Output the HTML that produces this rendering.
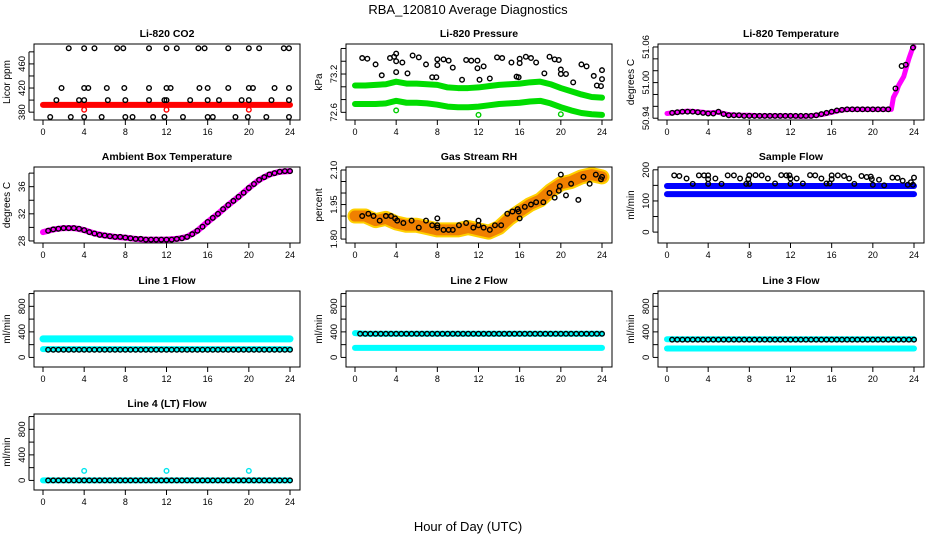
<!DOCTYPE html>
<html><head><meta charset="utf-8"><style>
body{margin:0;background:#fff}
svg{display:block;font-family:"Liberation Sans",sans-serif}
</style></head><body>
<svg id="c" width="936" height="540" viewBox="0 0 936 540">
<text x="468" y="14" text-anchor="middle" font-size="13">RBA_120810  Average Diagnostics</text>
<text x="468" y="531" text-anchor="middle" font-size="13">Hour of Day (UTC)</text>
</svg>
<script>
// shared time arrays (hours)
const hrs25=[0,1,2,3,4,5,6,7,8,9,10,11,12,13,14,15,16,17,18,19,20,21,22,23,24];
const hrs48=[0.5,1,1.5,2,2.5,3,3.5,4,4.5,5,5.5,6,6.5,7,7.5,8,8.5,9,9.5,10,10.5,11,11.5,12,12.5,13,13.5,14,14.5,15,15.5,16,16.5,17,17.5,18,18.5,19,19.5,20,20.5,21,21.5,22,22.5,23,23.5,24];
const xTicks=[0,4,8,12,16,20,24];
// Panel 1 CO2
const co2Band=[392,392,392,392,392,392,392,392,392,392,392,392,392,392,392,392,392,392,392,392,392,392,392,392,392];
const co2PtX=[2.5,4,5,7.2,7.8,10.3,12,13,15.1,15.7,18,20,21,23.4,23.9,1.8,4,4.4,6.2,7.9,10.3,12,12.4,15.2,16,18,20,20.4,22.5,23.9,1.3,3.5,4,6.3,8,10.3,11.8,12,14.3,16,17.1,19.3,20,22.2,23.9,0.7,2.7,4,5.7,8,8.7,10.7,11.8,13.6,16,16.5,18.7,19.9,21.7,23.9];
const co2PtY=[486,486,486,486,486,486,486,486,486,486,486,486,486,486,486,420,420,420,420,420,420,420,420,420,420,420,420,420,420,420,400,400,400,400,400,400,400,400,400,400,400,400,400,400,400,372,372,372,372,372,372,372,372,372,372,372,372,372,372,372];
const co2OutX=[4,12,20];
const co2OutY=[384,384,384];
// Panel 2 pressure
const presUpper=[73.02,73.02,73.03,73.04,73.08,73.05,73.05,73.04,73.03,72.99,72.98,72.98,72.99,73.01,73.03,73.04,73.05,73.07,73.08,73.04,72.98,72.93,72.88,72.84,72.83];
const presLower=[72.73,72.73,72.73,72.74,72.78,72.75,72.75,72.74,72.72,72.69,72.68,72.68,72.69,72.71,72.73,72.74,72.75,72.77,72.78,72.74,72.68,72.63,72.59,72.57,72.56];
const presPtX=[0.7,1.2,2,2.6,3.4,3.8,4,4,4,4.6,5.1,5.6,6.2,6.9,7.5,7.9,8,8,8.6,9.1,9.5,10.4,10.8,11.3,11.9,11.9,12.1,12.5,13.1,13.8,14.3,15.2,15.7,15.9,16,16,16.6,17.1,17.6,18.4,18.9,19.4,19.8,20,20,20.5,21.2,22,22.5,23.2,23.5,23.9,24,24];
const presPtY=[73.45,73.44,73.35,73.18,73.45,73.47,73.52,73.4,73.23,73.38,73.21,73.49,73.46,73.35,73.15,73.15,73.34,73.43,73.43,73.41,73.3,73.11,73.42,73.41,73.41,73.29,73.11,73.32,73.13,73.46,73.45,73.38,73.16,73.15,73.37,73.44,73.47,73.45,73.38,73.21,73.47,73.43,73.42,73.27,73.2,73.2,73.07,73.35,73.32,73.17,73.02,73.01,73.12,73.26];
const presOutX=[4,12,20];
const presOutY=[72.63,72.56,72.57];
// Panel 3 Li-820 temperature
const ltX=[0,1,2,3,4,5,6,7,8,9,10,11,12,13,14,15,16,17,18,19,20,21,21.8,22,22.3,22.5,23,23.5,23.8,24];
const ltBand=[50.948,50.950,50.952,50.951,50.949,50.950,50.946,50.945,50.945,50.944,50.944,50.944,50.944,50.943,50.944,50.946,50.950,50.954,50.955,50.955,50.955,50.955,50.955,50.975,50.985,50.995,51.01,51.04,51.055,51.06];
const ltPtX=[0.5,1,1.5,2,2.5,3,3.5,4,4.5,5,5.5,6,6.5,7,7.5,8,8.5,9,9.5,10,10.5,11,11.5,12,12.5,13,13.5,14,14.5,15,15.5,16,16.5,17,17.5,18,18.5,19,19.5,20,20.5,21,21.5,22.2,22.8,23.2,23.9];
const ltPtY=[50.949,50.950,50.951,50.951,50.951,50.950,50.949,50.948,50.948,50.951,50.947,50.945,50.945,50.945,50.944,50.944,50.944,50.944,50.944,50.944,50.944,50.944,50.944,50.944,50.944,50.944,50.944,50.944,50.945,50.947,50.949,50.951,50.953,50.954,50.955,50.955,50.955,50.955,50.955,50.955,50.955,50.955,50.955,50.990,51.028,51.030,51.059];
// Panel 4 ambient box temperature
const ambBand=[29.3,29.7,29.9,29.9,29.6,29.1,28.8,28.6,28.5,28.3,28.2,28.2,28.2,28.3,28.6,29.5,30.8,32.0,33.3,34.5,35.8,37.0,37.8,38.2,38.3];
const ambPt=[29.5,29.7,29.8,29.9,29.9,29.9,29.8,29.6,29.3,29.1,28.9,28.8,28.7,28.6,28.6,28.5,28.4,28.3,28.3,28.2,28.2,28.2,28.2,28.2,28.2,28.3,28.4,28.6,29.0,29.5,30.1,30.8,31.4,32.0,32.7,33.3,33.9,34.5,35.1,35.8,36.4,37.0,37.4,37.8,38.0,38.2,38.3,38.3];
// Panel 5 gas stream RH
const rhBand=[1.90,1.90,1.88,1.89,1.87,1.86,1.86,1.85,1.84,1.84,1.84,1.85,1.84,1.83,1.85,1.89,1.92,1.95,1.97,2.01,2.04,2.05,2.07,2.08,2.07];
const rhPtX=[0.7,1.3,1.8,2.4,3,3.5,3.9,4.1,4.7,5.5,6.2,6.9,7.5,8,8,8,8.6,9.1,9.5,10.1,10.8,11.5,12,12,12.5,13.1,13.6,14.2,14.8,15.3,15.8,15.9,16,16.5,17.1,17.6,18.3,18.9,19.4,19.8,19.9,20,20.5,21,21.7,22.2,22.8,23.4,23.9,24];
const rhPtY=[1.90,1.91,1.90,1.88,1.90,1.90,1.89,1.88,1.87,1.88,1.85,1.88,1.86,1.85,1.86,1.89,1.84,1.84,1.84,1.86,1.87,1.85,1.86,1.88,1.85,1.84,1.86,1.86,1.91,1.92,1.93,1.92,1.89,1.94,1.95,1.96,1.96,2.00,1.98,2.01,2.03,2.08,1.99,2.04,1.97,2.07,2.04,2.08,2.06,2.07];
// Panel 6 sample flow
const sfBandA=[148,148,148,148,148,148,148,148,148,148,148,148,148,148,148,148,148,148,148,148,148,148,148,148,148];
const sfBandB=[122,122,122,122,122,122,122,122,122,122,122,122,122,122,122,122,122,122,122,122,122,122,122,122,122];
const sfPtX=[0.7,1.2,1.9,2.5,3.1,3.6,4,4,4,4.7,5.3,5.9,6.5,7.1,7.7,7.9,8,8,8.6,9.2,9.8,10.5,11.1,11.6,11.9,12,12,12.6,13.2,13.9,14.4,15,15.5,15.8,16,16,16.6,17.2,17.7,18.2,18.9,19.4,19.8,19.9,20,20.6,21.1,21.9,22.4,22.9,23.4,23.7,23.9,24];
const sfPtY=[182,180,172,155,182,182,182,170,155,172,155,182,182,172,155,170,155,182,183,182,172,156,183,182,182,172,155,172,156,183,182,172,156,156,170,182,182,180,172,155,180,177,178,170,152,168,150,175,174,165,152,160,152,175];
// Line flows
const l1Cyan=[290,290,290,290,290,290,290,290,290,290,290,290,290,290,290,290,290,290,290,290,290,290,290,290,290];
const l1Cyan2=[130,130,130,130,130,130,130,130,130,130,130,130,130,130,130,130,130,130,130,130,130,130,130,130,130];
const l1Black=Array(48).fill(120);
const l2Cyan=[380,370,370,370,370,370,370,370,370,370,370,370,370,370,370,370,370,370,370,370,370,370,370,370,370];
const l2Cyan2=[150,150,150,150,150,150,150,150,150,150,150,150,150,150,150,150,150,150,150,150,150,150,150,150,150];
const l2Black=Array(48).fill(370);
const l3Cyan=[285,285,285,285,285,285,285,285,285,285,285,285,285,285,285,285,285,285,285,285,285,285,285,285,285];
const l3Cyan2=[140,140,140,140,140,140,140,140,140,140,140,140,140,140,140,140,140,140,140,140,140,140,140,140,140];
const l3Black=Array(48).fill(278);
const l4Cyan=[0,0,0,0,0,0,0,0,0,0,0,0,0,0,0,0,0,0,0,0,0,0,0,0,0];
const l4Black=Array(48).fill(0);
const l4OutX=[4,12,20];
const l4OutY=[150,150,150];

const svg=document.getElementById('c');
const NS='http://www.w3.org/2000/svg';
function mk(tag,attrs,parent){const e=document.createElementNS(NS,tag);for(const k in attrs)e.setAttribute(k,attrs[k]);(parent||svg).appendChild(e);return e;}
const colLeft=[34,346,658],rowTop=[44,167,291,414],W=266,H=76;

function panel(name,title,col,row,dom,ticks,labels,ylab){
  const L=colLeft[col],T=rowTop[row],B=T+H;
  const g=mk('g',{});
  
  
  const sx=v=>L+9+v/24*247;
  const sy=v=>B-(v-dom[0])/(dom[1]-dom[0])*H;
  const t=mk('text',{x:L+W/2,y:T-7,'text-anchor':'middle','font-size':10.5,'font-weight':'bold'},g);t.textContent=title;
  
  
  const yl=mk('text',{transform:`translate(${L-24},${T+H/2}) rotate(-90)`,'text-anchor':'middle','font-size':10},g);yl.textContent=ylab;
  
  
  const ax=mk('g',{stroke:'#000','stroke-width':1},g);
  
  
  ticks.forEach(v=>{const y=sy(v);mk('line',{x1:L-5,x2:L,y1:y,y2:y},ax);});
  mk('line',{x1:L-5,x2:L-5,y1:sy(ticks[0]),y2:sy(ticks[ticks.length-1])},ax);
  labels.forEach(v=>{const y=sy(+v);const tx=mk('text',{transform:`translate(${L-9},${y}) rotate(-90)`,'text-anchor':'middle','font-size':9.5,stroke:'none'},g);tx.textContent=String(v);
    
    });
  const xa=mk('g',{stroke:'#000'},g);
  
  
  xTicks.forEach(v=>{mk('line',{x1:sx(v),x2:sx(v),y1:B,y2:B+5},xa);const tx=mk('text',{x:sx(v),y:B+15,'text-anchor':'middle','font-size':9,stroke:'none'},g);tx.textContent=v;
    
    });
  const plot=mk('g',{},g);
  const box=mk('rect',{x:L,y:T,width:W,height:H,fill:'none',stroke:'#000'},g);
  
  
  return {
    band(xs,ys,color,w,nm){const p=mk('polyline',{points:xs.map((x,i)=>sx(x)+','+sy(ys[i])).join(' '),fill:'none',stroke:color,'stroke-width':w,'stroke-linejoin':'round','stroke-linecap':'round'},plot);
      
      return p;},
    pts(xs,ys,color,nm,r){const gg=mk('g',{fill:'none',stroke:color,'stroke-width':1.4},plot);
      
      
      xs.forEach((x,i)=>{const c=mk('circle',{cx:sx(x),cy:sy(ys[i]),r:r||2.3},gg);
        
        });}
  };
}
let p;
p=panel('co2','Li-820 CO2',0,0,[367,493],[380,400,420,440,460,480],[380,420,460],'Licor ppm');
p.band(hrs25,co2Band,'#ff0000',6,'co2-band');
p.pts(co2OutX,co2OutY,'#ff0000','co2-outliers');
p.pts(co2PtX,co2PtY,'#000','co2-hourly-points');

p=panel('pressure','Li-820 Pressure',1,0,[72.48,73.67],[72.6,72.8,73.0,73.2,73.4,73.6],[72.6,73.2],'kPa');
p.band(hrs25,presUpper,'#00dd00',6,'pressure-upper-band');
p.band(hrs25,presLower,'#00dd00',6,'pressure-lower-band');
p.pts(presOutX,presOutY,'#00cc00','pressure-outliers');
p.pts(presPtX,presPtY,'#000','pressure-hourly-points');

p=panel('li-temp','Li-820 Temperature',2,0,[50.937,51.065],[50.94,50.96,50.98,51.00,51.02,51.04,51.06],['50.94','51.00','51.06'],'degrees C');
p.band(ltX,ltBand,'#ff00ff',5,'li-temp-band');
p.pts(ltPtX,ltPtY,'#000','li-temp-points');

p=panel('ambient','Ambient Box Temperature',0,1,[27.7,38.9],[28,30,32,34,36,38],[28,32,36],'degrees C');
p.band(hrs25,ambBand,'#ff00ff',6,'ambient-band');
p.pts(hrs48,ambPt,'#000','ambient-points');

p=panel('rh','Gas Stream RH',1,1,[1.783,2.113],[1.80,1.85,1.90,1.95,2.00,2.05,2.10],['1.80','1.95','2.10'],'percent');
p.band(hrs25,rhBand,'#ffd000',15,'rh-band');
p.band(hrs25,rhBand,'#f08000',11,'rh-band-core');
p.pts(rhPtX,rhPtY,'#000','rh-points');

p=panel('sample-flow','Sample Flow',2,1,[-35,209],[0,50,100,150,200],[0,100,200],'ml/min');
p.band(hrs25,sfBandA,'#0000ff',6,'sample-flow-band-a');
p.band(hrs25,sfBandB,'#0000ff',6,'sample-flow-band-b');
p.pts(sfPtX,sfPtY,'#000','sample-flow-points');

const flowTicks=[0,200,400,600,800,1000],flowLabels=[0,400,800],flowDom=[-150,1040];
p=panel('line1','Line 1 Flow',0,2,flowDom,flowTicks,flowLabels,'ml/min');
p.band(hrs25,l1Cyan,'#00ffff',7,'line1-cyan-upper');
p.band(hrs25,l1Cyan2,'#00ffff',6,'line1-cyan-lower');
p.pts(hrs48,l1Black,'#000','line1-points');

p=panel('line2','Line 2 Flow',1,2,flowDom,flowTicks,flowLabels,'ml/min');
p.band(hrs25,l2Cyan,'#00ffff',6,'line2-cyan-upper');
p.band(hrs25,l2Cyan2,'#00ffff',6,'line2-cyan-lower');
p.pts(hrs48,l2Black,'#000','line2-points');

p=panel('line3','Line 3 Flow',2,2,flowDom,flowTicks,flowLabels,'ml/min');
p.band(hrs25,l3Cyan,'#00ffff',6,'line3-cyan-upper');
p.band(hrs25,l3Cyan2,'#00ffff',6,'line3-cyan-lower');
p.pts(hrs48,l3Black,'#000','line3-points');

p=panel('line4','Line 4 (LT) Flow',0,3,flowDom,flowTicks,flowLabels,'ml/min');
p.band(hrs25,l4Cyan,'#00ffff',6,'line4-cyan');
p.pts(l4OutX,l4OutY,'#00e5ee','line4-outliers');
p.pts(hrs48,l4Black,'#000','line4-points');
</script>
</body></html>
